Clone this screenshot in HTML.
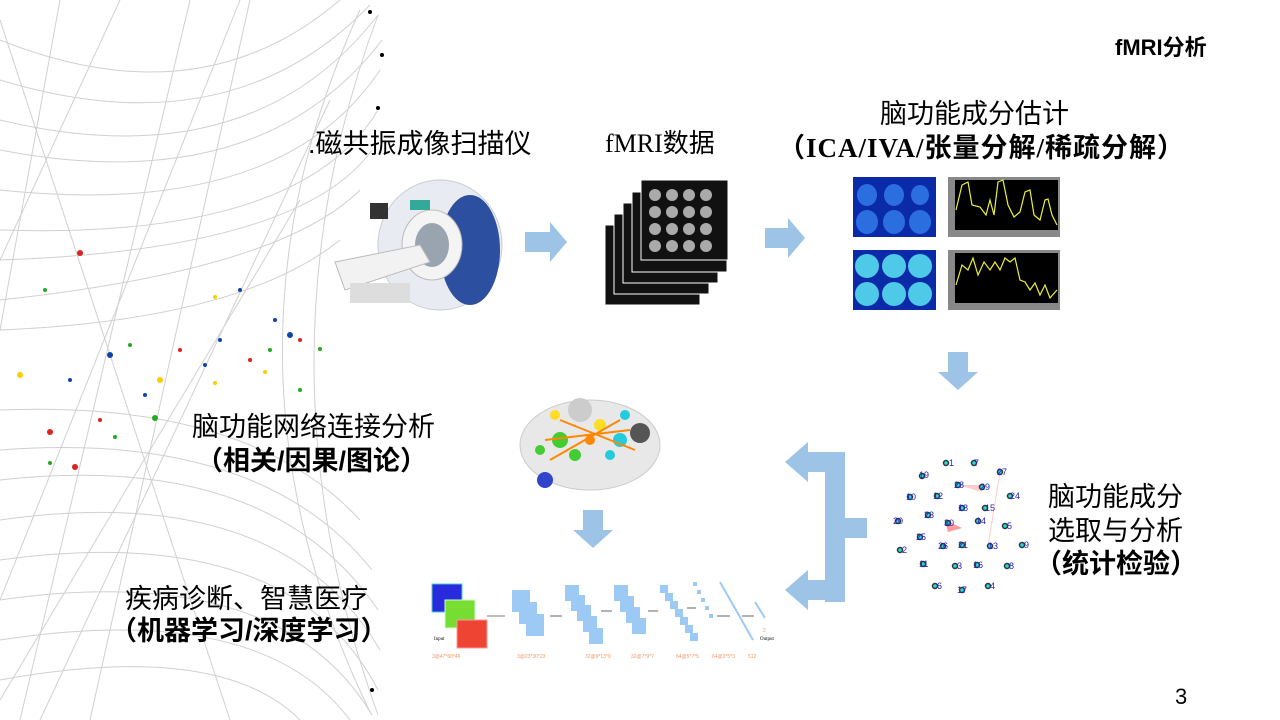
<!DOCTYPE html>
<html><head><meta charset="utf-8"><style>
body{margin:0;width:1280px;height:720px;background:#fff;overflow:hidden;position:relative;font-family:"Liberation Sans","Noto Sans CJK SC",sans-serif;}
.t{position:absolute;color:#000;white-space:nowrap;font-size:27px;line-height:1;}
.b{font-weight:bold;}
</style></head><body>
<svg width="1280" height="720" style="position:absolute;left:0;top:0">
<g fill="none" stroke="#d0d0d0" stroke-width="1">
<path d="M0,120 Q250,180 378,15"/><path d="M0,150 Q260,200 382,40"/><path d="M0,190 Q280,220 380,70"/>
<path d="M0,230 Q300,240 378,110"/><path d="M0,260 Q300,250 372,150"/><path d="M0,300 Q280,270 360,190"/>
<path d="M0,80 Q230,150 370,5"/><path d="M0,40 Q200,120 340,0"/><path d="M0,330 Q240,320 340,240"/>
<path d="M0,450 Q260,430 372,570"/><path d="M0,480 Q270,450 378,610"/><path d="M0,520 Q280,480 380,650"/>
<path d="M0,560 Q290,520 378,690"/><path d="M0,600 Q280,560 372,715"/><path d="M0,640 Q260,600 350,720"/>
<path d="M0,410 Q250,400 360,520"/><path d="M0,680 Q220,640 300,720"/>
<path d="M378,15 Q250,360 378,715"/><path d="M360,10 Q200,360 370,712"/>
<path d="M0,20 L230,720"/><path d="M60,0 L0,330"/><path d="M120,0 L0,260"/><path d="M190,0 L20,720"/><path d="M250,0 L90,720"/><path d="M0,700 L300,200"/><path d="M0,600 L240,0"/><path d="M40,720 L330,100"/>
</g>
<g>
<circle cx="370" cy="12" r="2" fill="#000"/><circle cx="382" cy="55" r="2" fill="#000"/><circle cx="378" cy="108" r="2" fill="#000"/><circle cx="372" cy="690" r="2" fill="#000"/>
<circle cx="80" cy="253" r="3" fill="#d22"/><circle cx="45" cy="290" r="2" fill="#2a2"/><circle cx="20" cy="375" r="3" fill="#fc0"/><circle cx="110" cy="355" r="3" fill="#14a"/>
<circle cx="130" cy="345" r="2" fill="#2a2"/><circle cx="160" cy="380" r="3" fill="#fc0"/><circle cx="155" cy="418" r="3" fill="#2a2"/><circle cx="50" cy="432" r="3" fill="#d22"/>
<circle cx="115" cy="437" r="2" fill="#2a2"/><circle cx="50" cy="463" r="2" fill="#2a2"/><circle cx="75" cy="467" r="3" fill="#d22"/><circle cx="215" cy="297" r="2" fill="#fc0"/>
<circle cx="240" cy="290" r="2" fill="#14a"/><circle cx="290" cy="335" r="3" fill="#14a"/><circle cx="300" cy="340" r="2" fill="#d22"/><circle cx="320" cy="349" r="2" fill="#2a2"/>
<circle cx="220" cy="340" r="2" fill="#14a"/><circle cx="250" cy="360" r="2" fill="#d22"/><circle cx="270" cy="350" r="2" fill="#2a2"/><circle cx="265" cy="372" r="2" fill="#fc0"/>
<circle cx="205" cy="365" r="2" fill="#14a"/><circle cx="180" cy="350" r="2" fill="#d22"/><circle cx="275" cy="320" r="2" fill="#14a"/><circle cx="145" cy="395" r="2" fill="#14a"/>
<circle cx="70" cy="380" r="2" fill="#14a"/><circle cx="100" cy="420" r="2" fill="#d22"/><circle cx="215" cy="383" r="2" fill="#fc0"/><circle cx="300" cy="390" r="2" fill="#2a2"/>
</g>
<g fill="#9dc3e6">
<polygon points="525,232 550,232 550,222 567,242 550,262 550,252 525,252"/>
<polygon points="765,228 788,228 788,218 805,238 788,258 788,248 765,248"/>
<polygon points="948,352 968,352 968,372 978,372 958,390 938,372 948,372"/>
<polygon points="583,510 603,510 603,530 613,530 593,548 573,530 583,530"/>
<rect x="825" y="452" width="20" height="150"/>
<rect x="845" y="518" width="22" height="20"/>
<polygon points="825,452 808,452 808,442 785,462 808,482 808,472 825,472"/>
<polygon points="825,580 808,580 808,570 785,590 808,610 808,600 825,600"/>
</g>
<g>
<ellipse cx="440" cy="245" rx="62" ry="65" fill="#e8ecf2" stroke="#c8ccd4"/>
<ellipse cx="470" cy="250" rx="30" ry="55" fill="#2c4fa0"/>
<ellipse cx="432" cy="245" rx="30" ry="35" fill="#f4f4f4" stroke="#bbb"/>
<ellipse cx="432" cy="245" rx="17" ry="22" fill="#9aa4b0"/>
<polygon points="335,262 420,245 430,262 345,290" fill="#f2f2f2" stroke="#bbb"/>
<rect x="350" y="283" width="60" height="20" fill="#ddd"/>
<rect x="370" y="203" width="18" height="16" fill="#333"/>
<rect x="410" y="200" width="20" height="10" fill="#3a9"/>
</g>
<g>
<rect x="605" y="225" width="95" height="80" fill="#111" stroke="#fff"/>
<rect x="614" y="214" width="95" height="80" fill="#111" stroke="#fff"/>
<rect x="623" y="203" width="95" height="80" fill="#111" stroke="#fff"/>
<rect x="632" y="192" width="95" height="80" fill="#111" stroke="#fff"/>
<rect x="641" y="180" width="87" height="80" fill="#111" stroke="#fff"/>
<g fill="#aaa">
<circle cx="655" cy="195" r="6"/><circle cx="672" cy="195" r="6"/><circle cx="689" cy="195" r="6"/><circle cx="706" cy="195" r="6"/>
<circle cx="655" cy="212" r="6"/><circle cx="672" cy="212" r="6"/><circle cx="689" cy="212" r="6"/><circle cx="706" cy="212" r="6"/>
<circle cx="655" cy="229" r="6"/><circle cx="672" cy="229" r="6"/><circle cx="689" cy="229" r="6"/><circle cx="706" cy="229" r="6"/>
<circle cx="655" cy="246" r="6"/><circle cx="672" cy="246" r="6"/><circle cx="689" cy="246" r="6"/><circle cx="706" cy="246" r="6"/>
</g></g>
<rect x="853" y="177" width="83" height="60" fill="#0a2aa8"/>
<g fill="#2a6ee0"><ellipse cx="867" cy="195" rx="10" ry="11"/><ellipse cx="894" cy="195" rx="10" ry="11"/><ellipse cx="920" cy="195" rx="9" ry="10"/><ellipse cx="867" cy="222" rx="11" ry="12"/><ellipse cx="894" cy="222" rx="11" ry="12"/><ellipse cx="920" cy="222" rx="11" ry="12"/></g>
<rect x="853" y="250" width="83" height="60" fill="#0a2aa8"/>
<g fill="#4fc9e8"><ellipse cx="867" cy="266" rx="12" ry="12"/><ellipse cx="894" cy="266" rx="12" ry="12"/><ellipse cx="920" cy="266" rx="12" ry="12"/><ellipse cx="867" cy="294" rx="12" ry="12"/><ellipse cx="894" cy="294" rx="12" ry="12"/><ellipse cx="920" cy="294" rx="12" ry="12"/></g>
<rect x="948" y="177" width="112" height="60" fill="#888"/><rect x="955" y="180" width="103" height="50" fill="#000"/>
<polyline points="956,210 962,185 968,182 972,205 980,207 986,215 990,200 994,215 998,182 1003,180 1008,205 1014,217 1020,212 1025,192 1030,190 1034,215 1040,220 1045,200 1048,199 1052,215 1057,225" fill="none" stroke="#ee3" stroke-width="1.2"/>
<rect x="948" y="250" width="112" height="60" fill="#888"/><rect x="955" y="253" width="103" height="50" fill="#000"/>
<polyline points="956,285 962,265 968,270 973,258 978,275 984,262 990,270 995,262 1000,270 1005,258 1010,262 1015,258 1020,280 1025,282 1030,290 1035,283 1040,295 1045,285 1050,298 1057,290" fill="none" stroke="#ee3" stroke-width="1.2"/>
<ellipse cx="590" cy="445" rx="70" ry="45" fill="#e8e8e8" stroke="#ccc"/>
<g>
<circle cx="580" cy="410" r="12" fill="#ccc"/><circle cx="640" cy="433" r="10" fill="#555"/><circle cx="545" cy="480" r="8" fill="#34c"/>
<circle cx="560" cy="440" r="8" fill="#4c3"/><circle cx="600" cy="425" r="6" fill="#fd2"/><circle cx="620" cy="440" r="7" fill="#2cd"/>
<circle cx="575" cy="455" r="6" fill="#4c3"/><circle cx="590" cy="440" r="5" fill="#f80"/><circle cx="610" cy="455" r="5" fill="#2cd"/>
<circle cx="540" cy="450" r="5" fill="#4c3"/><circle cx="555" cy="415" r="5" fill="#fd2"/><circle cx="625" cy="415" r="5" fill="#2cd"/>
<path d="M545,440 L630,430 M550,460 L620,420 M560,420 L635,450" stroke="#f80" stroke-width="2"/>
</g>
<g>
<rect x="432" y="584" width="30" height="28" fill="#2a2add" stroke="#4cc"/>
<rect x="445" y="600" width="30" height="28" fill="#7d3" stroke="#cfc"/>
<rect x="457" y="620" width="30" height="28" fill="#e43" stroke="#f99"/>
<g fill="#9ccaf5">
<rect x="512" y="590" width="18" height="22"/><rect x="519" y="602" width="18" height="22"/><rect x="526" y="614" width="18" height="22"/>
<rect x="565" y="585" width="14" height="16"/><rect x="571" y="595" width="14" height="16"/><rect x="577" y="605" width="14" height="16"/><rect x="583" y="616" width="14" height="16"/><rect x="589" y="628" width="14" height="16"/>
<rect x="614" y="585" width="14" height="16"/><rect x="620" y="596" width="14" height="16"/><rect x="626" y="607" width="14" height="16"/><rect x="632" y="618" width="14" height="16"/>
<rect x="660" y="585" width="8" height="8"/><rect x="665" y="593" width="8" height="8"/><rect x="670" y="601" width="8" height="8"/><rect x="675" y="609" width="8" height="8"/><rect x="680" y="617" width="8" height="8"/><rect x="685" y="625" width="8" height="8"/><rect x="690" y="633" width="8" height="8"/>
<rect x="693" y="582" width="4" height="4"/><rect x="697" y="590" width="4" height="4"/><rect x="701" y="598" width="4" height="4"/><rect x="705" y="606" width="4" height="4"/><rect x="709" y="614" width="4" height="4"/>
</g>
<line x1="720" y1="582" x2="753" y2="640" stroke="#9ccaf5" stroke-width="2"/>
<line x1="755" y1="602" x2="765" y2="618" stroke="#9ccaf5" stroke-width="2"/>
<g stroke="#000" stroke-width="0.6"><line x1="487" y1="616" x2="505" y2="616"/><line x1="550" y1="616" x2="562" y2="616"/><line x1="601" y1="611" x2="612" y2="611"/><line x1="648" y1="611" x2="658" y2="611"/><line x1="687" y1="608" x2="696" y2="608"/><line x1="717" y1="616" x2="730" y2="616"/><line x1="742" y1="616" x2="754" y2="616"/></g>
<g font-size="5" fill="#e96" font-family="Liberation Sans"><text x="432" y="658">3@47*60*46</text><text x="517" y="658">3@23*30*23</text><text x="585" y="658">32@9*13*9</text><text x="631" y="658">32@7*9*7</text><text x="676" y="658">64@5*7*5</text><text x="712" y="658">64@3*5*3</text><text x="748" y="658">512</text><text x="763" y="632">2</text></g>
<g font-size="5" fill="#000" font-family="Liberation Serif"><text x="434" y="640">Input</text><text x="760" y="640">Output</text></g>
</g>
<g font-family="Liberation Sans" font-size="9" fill="#22c">
<line x1="1000" y1="472" x2="988" y2="546" stroke="#fcc"/>
<polygon points="945,520 962,528 948,532" fill="#f99"/>
<polygon points="958,485 980,485 982,492" fill="#fcc"/>
<g fill="#2dd" stroke="#333" stroke-width="1.5">
<circle cx="946" cy="463" r="2.5"/><circle cx="974" cy="463" r="2.5"/><circle cx="922" cy="476" r="2.5"/><circle cx="1000" cy="472" r="2.5"/><circle cx="958" cy="485" r="2.5"/><circle cx="982" cy="487" r="2.5"/><circle cx="910" cy="497" r="2.5"/><circle cx="937" cy="496" r="2.5"/><circle cx="1010" cy="496" r="2.5"/><circle cx="962" cy="508" r="2.5"/><circle cx="985" cy="508" r="2.5"/><circle cx="928" cy="515" r="2.5"/><circle cx="898" cy="521" r="2.5"/><circle cx="948" cy="523" r="2.5"/><circle cx="978" cy="521" r="2.5"/><circle cx="1005" cy="526" r="2.5"/><circle cx="920" cy="537" r="2.5"/><circle cx="943" cy="546" r="2.5"/><circle cx="962" cy="545" r="2.5"/><circle cx="990" cy="546" r="2.5"/><circle cx="1022" cy="545" r="2.5"/><circle cx="900" cy="550" r="2.5"/><circle cx="923" cy="564" r="2.5"/><circle cx="955" cy="566" r="2.5"/><circle cx="977" cy="565" r="2.5"/><circle cx="1007" cy="566" r="2.5"/><circle cx="935" cy="586" r="2.5"/><circle cx="962" cy="590" r="2.5"/><circle cx="988" cy="586" r="2.5"/>
</g>
<text x="949" y="466">1</text><text x="974" y="466">7</text><text x="919" y="478">19</text><text x="997" y="475">27</text><text x="954" y="488">28</text><text x="980" y="490">29</text><text x="906" y="500">10</text><text x="933" y="499">12</text><text x="1010" y="499">24</text><text x="958" y="511">18</text><text x="985" y="511">15</text><text x="924" y="518">23</text><text x="893" y="524">20</text><text x="944" y="526">30</text><text x="976" y="524">14</text><text x="1007" y="529">5</text><text x="916" y="540">25</text><text x="938" y="549">26</text><text x="958" y="548">21</text><text x="988" y="549">13</text><text x="1024" y="548">9</text><text x="902" y="553">2</text><text x="919" y="567">11</text><text x="957" y="569">3</text><text x="973" y="568">16</text><text x="1009" y="569">8</text><text x="937" y="589">6</text><text x="957" y="593">17</text><text x="990" y="589">4</text>
</g>
</svg>
<div class="t b" style="left:1115px;top:37px;font-size:22px">fMRI分析</div>
<div class="t" style="left:308px;top:131px">.磁共振成像扫描仪</div>
<div class="t" style="left:605px;top:131px;font-size:26px;font-family:'Liberation Serif','Noto Sans CJK SC',serif">fMRI数据</div>
<div class="t" style="left:880px;top:101px">脑功能成分估计</div>
<div class="t b" style="left:778px;top:135px;letter-spacing:1px;font-family:'Liberation Serif','Noto Sans CJK SC',serif">（ICA/IVA/张量分解/稀疏分解）</div>
<div class="t" style="left:192px;top:414px">脑功能网络连接分析</div>
<div class="t b" style="left:196px;top:448px">（相关/因果/图论）</div>
<div class="t" style="left:1048px;top:484px">脑功能成分</div>
<div class="t" style="left:1048px;top:518px">选取与分析</div>
<div class="t b" style="left:1035px;top:551px">（统计检验）</div>
<div class="t" style="left:125px;top:586px">疾病诊断、智慧医疗</div>
<div class="t b" style="left:110px;top:618px">（机器学习/深度学习）</div>
<div class="t" style="left:1175px;top:686px;font-size:22px">3</div>
</body></html>
